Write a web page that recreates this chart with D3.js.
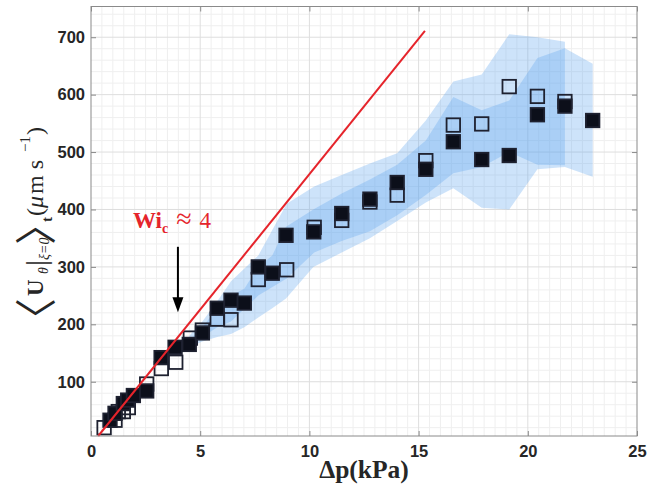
<!DOCTYPE html>
<html><head><meta charset="utf-8">
<script src="https://cdn.jsdelivr.net/npm/d3@7"></script>
<style>body{margin:0;background:#fff} svg{display:block}</style>
</head><body>
<svg id="chart" width="663" height="489"></svg>
<script>
// ---- data ----
const xTicks = [0, 5, 10, 15, 20, 25];
const yTicks = [100, 200, 300, 400, 500, 600, 700];
const xDomain = [0, 25];
const yDomain = [5.5, 753.5];

const filledX = [0.87, 1.10, 1.48, 1.68, 1.94, 2.55, 3.21, 3.85, 4.50, 5.10, 5.78, 6.41, 7.02, 7.66, 8.30, 8.93, 10.20, 11.48, 12.77, 14.02, 15.33, 16.59, 17.89, 19.15, 20.44, 21.70, 22.97];
const filledY = [33, 45, 62, 68, 76, 84, 142, 160, 165, 185, 228, 242, 237, 300, 289, 355, 361, 393, 418, 447, 470, 518, 487, 494, 565, 580, 555];

const openX = [0.60, 1.10, 1.25, 1.48, 1.71, 2.55, 3.22, 3.88, 4.55, 5.10, 5.78, 6.41, 7.66, 8.96, 10.22, 11.48, 12.77, 14.02, 15.33, 16.59, 17.89, 19.15, 20.44, 21.70];
const openY = [20, 33, 48, 48, 55, 96, 123, 134, 176, 190, 209, 208, 278, 295, 369, 381, 413, 425, 485, 547, 549, 614, 597, 588];

const bandOpenX = [4.5, 5.1, 5.78, 6.41, 7.66, 8.96, 10.22, 11.48, 12.77, 14.02, 15.33, 16.59, 17.89, 19.15, 20.44, 21.7];
const bandOpenUpper = [180, 205, 240, 275, 320, 410, 440, 460, 480, 498, 555, 623, 635, 705, 700, 692];
const bandOpenLower = [165, 178, 195, 205, 250, 280, 325, 345, 362, 390, 425, 463, 474, 500, 478, 477];

const bandFilledX = [4.5, 5.1, 5.78, 6.41, 7.02, 7.66, 8.3, 8.93, 10.18, 11.48, 12.77, 14.02, 15.33, 16.59, 17.89, 19.15, 20.44, 21.7, 22.97];
const bandFilledUpper = [172, 195, 228, 250, 262, 300, 320, 370, 400, 428, 452, 478, 520, 596, 573, 590, 664, 681, 654];
const bandFilledLower = [160, 170, 178, 183, 195, 212, 228, 245, 300, 325, 350, 380, 412, 437, 403, 400, 470, 474, 457];

const refLineX = [0.33, 15.29];
const refLineY = [5.5, 711];

const arrowX = [3.98, 3.98];
const arrowY = [335, 221];
const noteX = 1.92, noteY = 368;

// ---- drawing ----
const svg = d3.select('#chart');
const x = d3.scaleLinear().domain(xDomain).range([91, 637]);
const y = d3.scaleLinear().domain(yDomain).range([436, 6.5]);
const L = x.range()[0], R = x.range()[1], T = y.range()[1], B = y.range()[0];

svg.append('rect').attr('x', L).attr('y', T).attr('width', R - L).attr('height', B - T).attr('fill', '#fff');

// grid
const grid = svg.append('g');
grid.selectAll('.mx').data(d3.range(0.5, 25, 0.5).filter(v => v % 5 !== 0)).join('line')
  .attr('x1', d => x(d)).attr('x2', d => x(d)).attr('y1', T).attr('y2', B)
  .attr('stroke', '#efefef').attr('stroke-width', 1);
grid.selectAll('.my').data(d3.range(20, 753, 20).filter(v => v % 100 !== 0)).join('line')
  .attr('y1', d => y(d)).attr('y2', d => y(d)).attr('x1', L).attr('x2', R)
  .attr('stroke', '#efefef').attr('stroke-width', 1);
grid.selectAll('.Mx').data(xTicks.slice(1, -1)).join('line')
  .attr('x1', d => x(d)).attr('x2', d => x(d)).attr('y1', T).attr('y2', B)
  .attr('stroke', '#dedede').attr('stroke-width', 1);
grid.selectAll('.My').data(yTicks).join('line')
  .attr('y1', d => y(d)).attr('y2', d => y(d)).attr('x1', L).attr('x2', R)
  .attr('stroke', '#dedede').attr('stroke-width', 1);

// bands
const area = d3.area().x(d => x(d[0])).y0(d => y(d[1])).y1(d => y(d[2]));
const bandFill = 'rgb(88,162,238)';
svg.append('path').datum(bandOpenX.map((v, i) => [v, bandOpenLower[i], bandOpenUpper[i]]))
  .attr('d', area).attr('fill', bandFill).attr('fill-opacity', 0.3);
svg.append('path').datum(bandFilledX.map((v, i) => [v, bandFilledLower[i], bandFilledUpper[i]]))
  .attr('d', area).attr('fill', bandFill).attr('fill-opacity', 0.3);

// markers
const ms = 13.5;
svg.append('g').selectAll('rect').data(openX.map((v, i) => [v, openY[i]])).join('rect')
  .attr('x', d => x(d[0]) - ms / 2).attr('y', d => y(d[1]) - ms / 2)
  .attr('width', ms).attr('height', ms)
  .attr('fill', 'none').attr('stroke', '#1e2130').attr('stroke-width', 1.8);
svg.append('g').selectAll('rect').data(filledX.map((v, i) => [v, filledY[i]])).join('rect')
  .attr('x', d => x(d[0]) - ms / 2).attr('y', d => y(d[1]) - ms / 2)
  .attr('width', ms).attr('height', ms)
  .attr('fill', '#0c0f1a').attr('stroke', '#1e2130').attr('stroke-width', 1.8);

// red reference line
svg.append('path').datum(refLineX.map((v, i) => [v, refLineY[i]]))
  .attr('d', d3.line().x(d => x(d[0])).y(d => y(d[1])))
  .attr('stroke', '#e5242b').attr('stroke-width', 2).attr('fill', 'none');

// axes
const fontTick = '"Liberation Sans", Arial, sans-serif';
const axB = svg.append('g').attr('transform', `translate(0,${B})`)
  .call(d3.axisBottom(x).tickValues(xTicks).tickSize(-5).tickPadding(9).tickFormat(d3.format('d')));
const axL = svg.append('g').attr('transform', `translate(${L},0)`)
  .call(d3.axisLeft(y).tickValues(yTicks).tickSize(-5).tickPadding(6).tickFormat(d3.format('d')));
const axT = svg.append('g').attr('transform', `translate(0,${T})`)
  .call(d3.axisTop(x).tickValues(xTicks).tickSize(-5).tickFormat(''));
const axR = svg.append('g').attr('transform', `translate(${R},0)`)
  .call(d3.axisRight(y).tickValues(yTicks).tickSize(-5).tickFormat(''));
[axB, axL, axT, axR].forEach(a => {
  a.select('.domain').remove();
  a.selectAll('line').attr('stroke', '#8a8a8a');
  a.selectAll('text').attr('font-family', fontTick).attr('font-weight', 'bold')
    .attr('font-size', 16.5).attr('fill', '#262626');
});
svg.append('rect').attr('x', L).attr('y', T).attr('width', R - L).attr('height', B - T)
  .attr('fill', 'none').attr('stroke', '#8a8a8a').attr('stroke-width', 1);

// x label
const serif = '"Liberation Serif", "Times New Roman", serif';
svg.append('text').attr('x', (L + R) / 2).attr('y', 478).attr('text-anchor', 'middle')
  .attr('font-family', serif).attr('font-weight', 'bold').attr('font-size', 25.5).attr('fill', '#262626')
  .text('Δp(kPa)');

// y label (rotated)
const cjk = '"Noto Sans CJK JP", "Noto Sans CJK SC", sans-serif';
const yl = svg.append('text').attr('transform', 'translate(43,0) rotate(-90)')
  .attr('font-family', serif).attr('fill', '#262626');
const parts = [
  {t: '〈', u: 340, v: 8, s: 42, f: cjk},
  {t: 'U', u: 296, v: 0, s: 23, w: 'bold'},
  {t: 'θ', u: 274, v: 5, s: 14, st: 'italic'},
  {t: '|', u: 266, v: 3, s: 30},
  {t: 'ξ=0', u: 260, v: 6, s: 14, st: 'italic'},
  {t: '〉', u: 245, v: 8, s: 42, f: cjk},
  {t: 't', u: 222, v: 9, s: 15, w: 'bold'},
  {t: '(', u: 216, v: 0, s: 24},
  {t: 'μ', u: 208, v: 0, s: 24, st: 'italic'},
  {t: 'm s', u: 194, v: 0, s: 24},
  {t: '−1', u: 152, v: -13, s: 15},
  {t: ')', u: 135, v: 0, s: 24}
];
parts.forEach(p => {
  yl.append('tspan').attr('x', -p.u).attr('y', p.v).attr('font-size', p.s)
    .attr('font-weight', p.w || 'normal').attr('font-style', p.st || 'normal')
    .attr('font-family', p.f || serif).text(p.t);
});

// annotation
const note = svg.append('text').attr('x', x(noteX)).attr('y', y(noteY))
  .attr('font-family', serif).attr('fill', '#e5242b');
note.append('tspan').attr('font-weight', 'bold').attr('font-size', 23).text('Wi');
note.append('tspan').attr('font-weight', 'bold').attr('font-size', 14).attr('dy', 5).text('c');
note.append('tspan').attr('font-size', 28).attr('dy', -5).attr('dx', 8).text('≈');
note.append('tspan').attr('font-size', 23).attr('dx', 8).text('4');

const ax0 = x(arrowX[0]), ay0 = y(arrowY[0]), ay1 = y(arrowY[1]);
svg.append('line').attr('x1', ax0).attr('x2', ax0).attr('y1', ay0).attr('y2', ay1 - 10)
  .attr('stroke', '#000').attr('stroke-width', 2);
svg.append('path').attr('d', `M${ax0 - 5.5},${ay1 - 15} L${ax0 + 5.5},${ay1 - 15} L${ax0},${ay1} Z`).attr('fill', '#000');
</script>
</body></html>
